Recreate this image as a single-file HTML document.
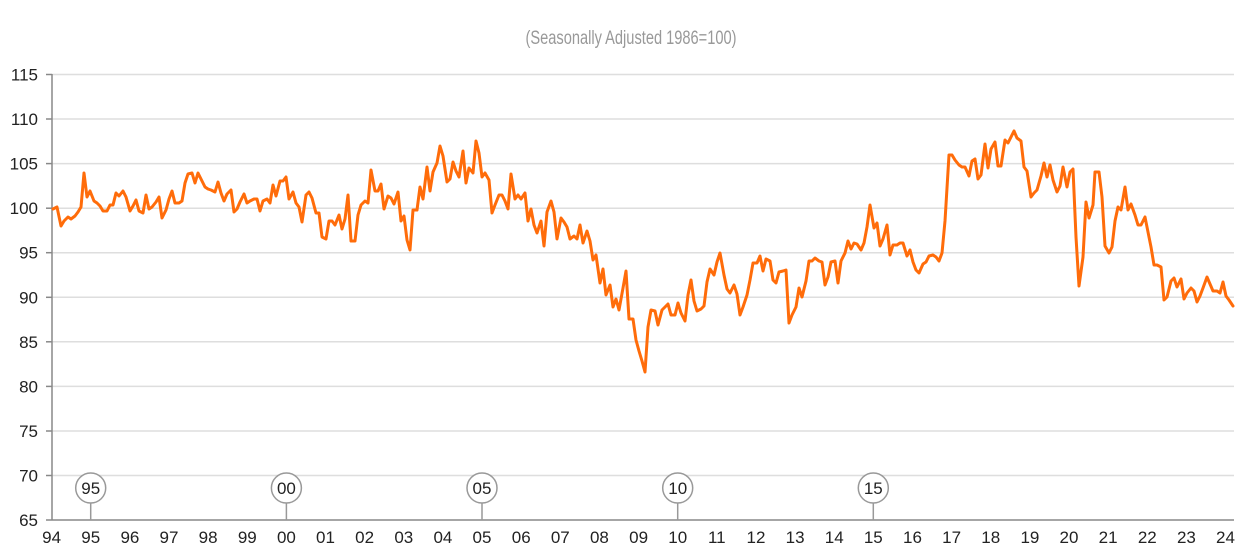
<!DOCTYPE html>
<html>
<head>
<meta charset="utf-8">
<style>
html,body{margin:0;padding:0;background:#fff;}
svg{display:block;}
text{font-family:"Liberation Sans",Arial,sans-serif;}
</style>
</head>
<body>
<svg width="1260" height="552" viewBox="0 0 1260 552" xmlns="http://www.w3.org/2000/svg">
<rect width="1260" height="552" fill="#fff"/>
<text x="631" y="44" font-size="19" fill="#999" text-anchor="middle" textLength="211" lengthAdjust="spacingAndGlyphs">(Seasonally Adjusted 1986=100)</text>
<g stroke="#dedede" stroke-width="1.5">
<line x1="52" y1="74.5" x2="1234" y2="74.5"/>
<line x1="52" y1="119" x2="1234" y2="119"/>
<line x1="52" y1="163.6" x2="1234" y2="163.6"/>
<line x1="52" y1="208.2" x2="1234" y2="208.2"/>
<line x1="52" y1="252.7" x2="1234" y2="252.7"/>
<line x1="52" y1="297.3" x2="1234" y2="297.3"/>
<line x1="52" y1="341.8" x2="1234" y2="341.8"/>
<line x1="52" y1="386.4" x2="1234" y2="386.4"/>
<line x1="52" y1="431" x2="1234" y2="431"/>
<line x1="52" y1="475.5" x2="1234" y2="475.5"/>
</g>
<g stroke="#888" stroke-width="1.5">
<line x1="52" y1="74" x2="52" y2="520"/>
<line x1="52" y1="520" x2="1234" y2="520"/>
<line x1="46" y1="74.5" x2="52" y2="74.5"/>
<line x1="46" y1="119" x2="52" y2="119"/>
<line x1="46" y1="163.6" x2="52" y2="163.6"/>
<line x1="46" y1="208.2" x2="52" y2="208.2"/>
<line x1="46" y1="252.7" x2="52" y2="252.7"/>
<line x1="46" y1="297.3" x2="52" y2="297.3"/>
<line x1="46" y1="341.8" x2="52" y2="341.8"/>
<line x1="46" y1="386.4" x2="52" y2="386.4"/>
<line x1="46" y1="431" x2="52" y2="431"/>
<line x1="46" y1="475.5" x2="52" y2="475.5"/>
<line x1="46" y1="520" x2="52" y2="520"/>
</g>
<g font-size="17" fill="#222" text-anchor="end">
<text x="38" y="80.5">115</text>
<text x="38" y="125">110</text>
<text x="38" y="169.6">105</text>
<text x="38" y="214.2">100</text>
<text x="38" y="258.7">95</text>
<text x="38" y="303.3">90</text>
<text x="38" y="347.8">85</text>
<text x="38" y="392.4">80</text>
<text x="38" y="437">75</text>
<text x="38" y="481.5">70</text>
<text x="38" y="526">65</text>
</g>
<g font-size="17" fill="#222" text-anchor="middle">
<text x="51.6" y="543">94</text>
<text x="90.7" y="543">95</text>
<text x="129.9" y="543">96</text>
<text x="169" y="543">97</text>
<text x="208.1" y="543">98</text>
<text x="247.3" y="543">99</text>
<text x="286.4" y="543">00</text>
<text x="325.5" y="543">01</text>
<text x="364.6" y="543">02</text>
<text x="403.8" y="543">03</text>
<text x="442.9" y="543">04</text>
<text x="482" y="543">05</text>
<text x="521.2" y="543">06</text>
<text x="560.3" y="543">07</text>
<text x="599.4" y="543">08</text>
<text x="638.6" y="543">09</text>
<text x="677.7" y="543">10</text>
<text x="716.8" y="543">11</text>
<text x="756" y="543">12</text>
<text x="795.1" y="543">13</text>
<text x="834.2" y="543">14</text>
<text x="873.3" y="543">15</text>
<text x="912.5" y="543">16</text>
<text x="951.6" y="543">17</text>
<text x="990.7" y="543">18</text>
<text x="1029.9" y="543">19</text>
<text x="1069" y="543">20</text>
<text x="1108.1" y="543">21</text>
<text x="1147.3" y="543">22</text>
<text x="1186.4" y="543">23</text>
<text x="1225.5" y="543">24</text>
</g>
<g stroke="#999" stroke-width="1.5" fill="#fff">
<line x1="90.7" y1="503" x2="90.7" y2="520"/>
<circle cx="90.7" cy="488" r="15"/>
<line x1="286.4" y1="503" x2="286.4" y2="520"/>
<circle cx="286.4" cy="488" r="15"/>
<line x1="482" y1="503" x2="482" y2="520"/>
<circle cx="482" cy="488" r="15"/>
<line x1="677.7" y1="503" x2="677.7" y2="520"/>
<circle cx="677.7" cy="488" r="15"/>
<line x1="873.3" y1="503" x2="873.3" y2="520"/>
<circle cx="873.3" cy="488" r="15"/>
</g>
<g font-size="17" fill="#222" text-anchor="middle">
<text x="90.7" y="494">95</text>
<text x="286.4" y="494">00</text>
<text x="482" y="494">05</text>
<text x="677.7" y="494">10</text>
<text x="873.3" y="494">15</text>
</g>
<polyline fill="none" stroke="#ff6c0a" stroke-width="3" stroke-linejoin="round" stroke-linecap="round" points="53,209 57,207 61,226 64,221 68,217 71,219 75,216 78,212 81,207 84,173 87,197 90,191 94,201 97,203 100,206 103,211 107,211 110,205 113,205 116,193 119,196 123,191 126,197 130,211 133,206 136,200 139,211 143,213 146,195 149,209 152,207 156,202 159,197 162,218 166,210 169,199 172,191 175,203 179,203 182,201 185,183 188,174 192,173 195,183 198,173 201,179 205,187 208,189 211,190 215,192 218,182 221,193 224,201 227,194 231,190 234,212 237,209 240,202 244,194 247,203 250,201 254,199 257,199 260,211 263,201 267,199 270,203 273,185 276,196 280,181 283,181 286,177 289,199 293,192 296,203 299,207 302,222 306,195 309,192 312,198 316,213 319,213 322,237 326,239 329,221 332,221 335,225 339,215 342,229 345,219 348,195 351,241 355,241 358,215 361,205 365,201 368,203 371,170 375,191 378,191 381,184 384,209 388,196 391,198 394,204 398,192 401,221 404,216 407,240 410,250 413,210 417,210 420,187 423,199 427,167 430,191 433,172 437,163 440,146 443,156 447,182 450,179 453,162 456,171 459,177 463,151 466,183 469,168 473,173 476,141 479,153 482,177 485,173 489,180 492,213 495,205 499,195 502,195 505,201 508,209 511,174 515,199 518,195 521,199 525,193 528,221 531,209 534,225 537,233 541,221 544,246 547,212 551,201 554,212 557,239 561,218 564,222 567,227 570,239 574,236 577,239 580,225 583,243 587,231 590,241 593,260 596,255 600,283 603,269 606,295 610,285 613,307 616,299 619,310 623,288 626,271 629,319 633,319 636,340 639,351 642,361 645,372 648,327 651,310 655,311 658,325 662,310 665,307 668,304 671,315 675,315 678,303 681,313 685,321 688,295 691,280 694,301 697,311 701,309 704,306 707,282 710,269 714,275 717,262 720,253 724,275 727,289 730,293 734,285 737,294 740,315 743,307 747,295 750,280 753,263 757,263 760,256 763,271 766,259 770,261 773,280 776,283 779,272 783,271 786,270 789,323 792,315 796,307 799,288 802,297 806,281 809,261 812,261 815,258 819,261 822,262 825,285 828,277 831,262 835,261 838,283 841,261 845,253 848,241 851,249 854,243 857,244 861,250 864,243 867,227 870,205 874,228 877,223 880,246 883,239 887,225 890,255 893,245 897,245 900,243 903,243 907,256 910,250 913,262 916,270 919,273 923,264 926,262 929,256 933,255 936,257 939,261 942,253 945,221 949,155 952,155 955,160 959,165 962,167 965,167 969,176 972,161 975,159 978,179 981,175 985,144 988,168 991,149 995,142 998,166 1001,166 1005,140 1008,143 1011,137 1014,131 1017,138 1021,141 1024,167 1027,171 1031,197 1034,193 1037,190 1041,176 1044,163 1047,177 1050,165 1053,180 1057,192 1060,186 1063,167 1067,187 1070,172 1073,169 1076,237 1079,286 1083,257 1086,202 1089,218 1093,205 1095,172 1099,172 1102,197 1105,246 1109,253 1112,247 1115,221 1118,207 1121,210 1125,187 1128,210 1131,204 1135,215 1138,225 1141,225 1145,217 1148,232 1151,247 1154,265 1157,265 1161,267 1164,300 1167,297 1171,281 1174,278 1177,287 1181,279 1184,299 1187,293 1191,288 1194,291 1197,302 1200,296 1203,288 1207,277 1210,284 1213,291 1217,291 1220,293 1223,282 1226,296 1229,300 1233,306"/>
</svg>
</body>
</html>
